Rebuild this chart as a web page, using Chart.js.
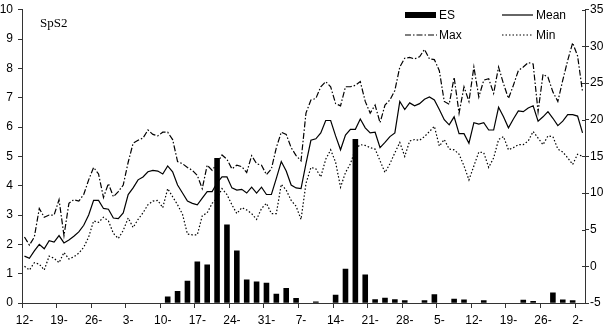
<!DOCTYPE html>
<html>
<head>
<meta charset="utf-8">
<script src="https://cdn.jsdelivr.net/npm/chart.js@4"></script>
<style>
html,body{margin:0;padding:0;background:#fff;}
canvas{display:block;}
</style>
</head>
<body>
<canvas id="c" width="611" height="327"></canvas>
<script>
// Daily categories (114 days), tick labels every 7 days
const categories = Array.from({length: 114}, (_, i) => 'day' + i);
const tickLabels = ['12-','19-','26-','3-','10-','17-','24-','31-','7-','14-','21-','28-','5-','12-','19-','26-','2-'];

const meanT = [1.4,1.1,2.1,3.0,2.4,3.5,3.3,4.2,3.2,3.6,
  4.1,4.7,5.6,7.0,9.0,9.0,7.9,7.8,6.6,6.5,
  7.3,9.8,10.7,11.8,12.2,12.9,13.1,13.0,12.6,13.7,
  12.9,11.1,10.0,8.9,8.6,8.4,9.3,10.2,10.2,11.4,
  12.2,12.2,10.7,10.4,10.5,10.0,10.8,10.0,10.8,9.8,
  9.8,12.0,14.3,13.0,11.1,10.7,10.6,14.0,17.2,17.4,
  18.2,19.9,19.9,17.8,15.9,17.9,18.7,18.7,20.1,18.9,
  18.2,18.3,16.2,16.9,17.7,18.2,22.5,21.4,22.3,21.9,
  22.2,22.8,23.1,22.7,21.4,20.0,19.3,20.4,18.1,18.1,
  16.8,19.6,19.4,19.6,18.6,18.6,21.7,20.4,18.9,20.1,
  21.2,21.1,21.6,21.9,19.8,20.4,21.1,20.2,19.2,19.8,
  20.7,20.7,20.5,18.2];

const maxT = [4.0,2.9,4.0,7.9,6.7,7.0,7.0,9.1,4.2,8.6,
  9.1,8.9,9.8,11.8,13.5,12.6,9.4,11.3,9.5,10.2,
  11.1,14.2,16.8,17.2,17.5,18.6,18.0,17.8,18.3,18.3,
  17.3,14.3,14.0,13.5,13.1,12.4,10.6,13.8,13.1,14.0,
  15.2,14.6,13.3,13.8,13.6,12.8,15.1,14.0,13.8,12.5,
  13.3,16.2,18.3,18.0,16.2,15.1,14.4,20.9,22.7,22.9,
  24.5,25.2,24.5,22.2,21.9,24.5,24.5,24.7,25.2,22.5,
  20.9,22.0,19.6,22.0,22.7,24.0,27.2,28.4,28.5,28.3,
  28.6,29.6,28.3,28.2,26.7,22.5,22.1,25.8,20.9,24.5,
  22.5,27.2,23.1,25.4,25.6,23.6,27.2,24.9,22.9,24.7,
  26.7,27.2,27.8,27.6,21.1,26.2,25.8,23.8,22.5,25.4,
  28.1,30.5,28.7,23.8];

const minT = [0.0,-0.5,0.5,0.3,-0.5,1.4,1.1,0.5,1.9,1.0,
  1.3,1.8,2.6,4.0,6.2,6.0,6.7,6.2,4.5,3.8,
  4.9,6.6,5.3,6.4,7.3,8.4,8.9,9.0,8.0,10.6,
  9.5,8.4,7.1,4.4,4.3,4.3,6.9,7.3,8.6,9.3,
  10.6,9.8,8.4,7.2,8.0,7.7,7.2,6.4,7.9,8.6,
  7.2,7.2,11.2,10.4,9.0,8.2,6.4,11.3,13.5,13.3,
  12.2,14.6,15.9,14.2,10.8,12.8,14.0,16.0,16.6,16.5,
  16.2,16.0,14.4,12.8,14.0,15.5,16.9,15.0,17.1,17.3,
  17.2,17.7,18.4,19.1,16.4,17.3,16.0,15.9,15.3,13.7,
  11.8,13.7,15.6,15.5,13.5,14.8,17.3,17.7,15.9,16.2,
  16.6,16.6,17.1,18.4,17.5,16.6,17.8,17.7,16.0,15.6,
  14.8,13.9,15.3,15.0];

// ES sampled every other day: day index and value
const esDays   = [29,31,33,35,37,39,41,43,45,47,49,51,53,55,59,63,65,67,69,71,73,75,77,81,83,87,89,93,101,103,107,109,111];
const esValues = [0.21,0.4,0.75,1.4,1.3,4.93,2.67,1.78,0.79,0.72,0.68,0.3,0.5,0.16,0.04,0.27,1.16,5.58,0.96,0.12,0.17,0.12,0.08,0.08,0.29,0.13,0.11,0.08,0.1,0.06,0.35,0.11,0.08];

const esSeries = categories.map(() => null);
esDays.forEach((d, k) => { esSeries[d] = esValues[k]; });

const FONT = 'Liberation Sans, Arial, sans-serif';
const AXIS = '#333';

const legendPlugin = {
  id: 'customLegend',
  afterDraw(chart) {
    const c = chart.ctx;
    c.save();
    // right axis: inner half of crossing tick marks
    const yR = chart.scales.yR;
    c.strokeStyle = AXIS;
    c.lineWidth = 1;
    yR.ticks.forEach((t) => {
      const py = Math.round(yR.getPixelForValue(t.value)) + 0.5;
      c.beginPath(); c.moveTo(yR.left - 3, py); c.lineTo(yR.left, py); c.stroke();
    });
    c.fillStyle = '#000';
    c.strokeStyle = '#000';
    c.font = '12px ' + FONT;
    c.textBaseline = 'alphabetic';
    // ES
    c.fillRect(405, 12, 31, 6);
    c.fillText('ES', 439, 19);
    // Mean
    c.lineWidth = 1.2;
    c.setLineDash([]);
    c.beginPath(); c.moveTo(502, 15); c.lineTo(533, 15); c.stroke();
    c.fillText('Mean', 536, 19);
    // Max
    c.setLineDash([6, 2, 1.5, 2]);
    c.beginPath(); c.moveTo(405, 35); c.lineTo(437, 35); c.stroke();
    c.fillText('Max', 439, 39);
    // Min
    c.setLineDash([1.5, 2]);
    c.beginPath(); c.moveTo(502, 35); c.lineTo(533, 35); c.stroke();
    c.fillText('Min', 536, 39);
    c.setLineDash([]);
    // Site label
    c.font = '13px Liberation Serif, Times New Roman, serif';
    c.fillText('SpS2', 40, 27);
    c.restore();
  }
};

new Chart(document.getElementById('c'), {
  data: {
    labels: categories,
    datasets: [
      {type: 'line', label: 'Mean', data: meanT, yAxisID: 'yR', borderColor: '#000', borderWidth: 1.2, pointRadius: 0, tension: 0, order: 1},
      {type: 'line', label: 'Max', data: maxT, yAxisID: 'yR', borderColor: '#000', borderWidth: 1.2, borderDash: [6, 2, 1.5, 2], pointRadius: 0, tension: 0, order: 2},
      {type: 'line', label: 'Min', data: minT, yAxisID: 'yR', borderColor: '#000', borderWidth: 1.2, borderDash: [1.5, 2], pointRadius: 0, tension: 0, order: 3},
      {type: 'bar', label: 'ES', data: esSeries, yAxisID: 'yL', backgroundColor: '#000', borderWidth: 0, barPercentage: 1, categoryPercentage: 1, order: 0}
    ]
  },
  options: {
    responsive: false,
    animation: false,
    layout: {padding: {top: 5, left: 0, right: 0, bottom: 0}},
    plugins: {legend: {display: false}, tooltip: {enabled: false}},
    scales: {
      x: {
        offset: true,
        grid: {
          offset: true,
          drawOnChartArea: false,
          tickLength: 5,
          color: (ctx) => (ctx.index % 7 === 0 ? AXIS : 'rgba(0,0,0,0)')
        },
        border: {color: AXIS, width: 1},
        ticks: {
          autoSkip: false, maxRotation: 0, minRotation: 0, padding: 5,
          color: '#000', font: {family: FONT, size: 12},
          callback: (v, i) => (i % 7 === 0 ? tickLabels[i / 7] : '')
        },
        afterFit: (s) => { s.height = 24; }
      },
      yL: {
        position: 'left', min: 0, max: 10,
        grid: {drawOnChartArea: false, tickLength: 4, color: AXIS},
        border: {color: AXIS, width: 1},
        ticks: {stepSize: 1, padding: 5, color: '#000', font: {family: FONT, size: 12, lineHeight: 0.8}},
        afterFit: (s) => { s.width = 22; }
      },
      yR: {
        position: 'right', min: -5, max: 35,
        grid: {drawOnChartArea: false, tickLength: 4, color: AXIS},
        border: {color: AXIS, width: 1},
        ticks: {stepSize: 5, padding: 1, color: '#000', font: {family: FONT, size: 12, lineHeight: 0.8}},
        afterFit: (s) => { s.width = 26; }
      }
    }
  },
  plugins: [legendPlugin]
});
</script>
</body>
</html>
